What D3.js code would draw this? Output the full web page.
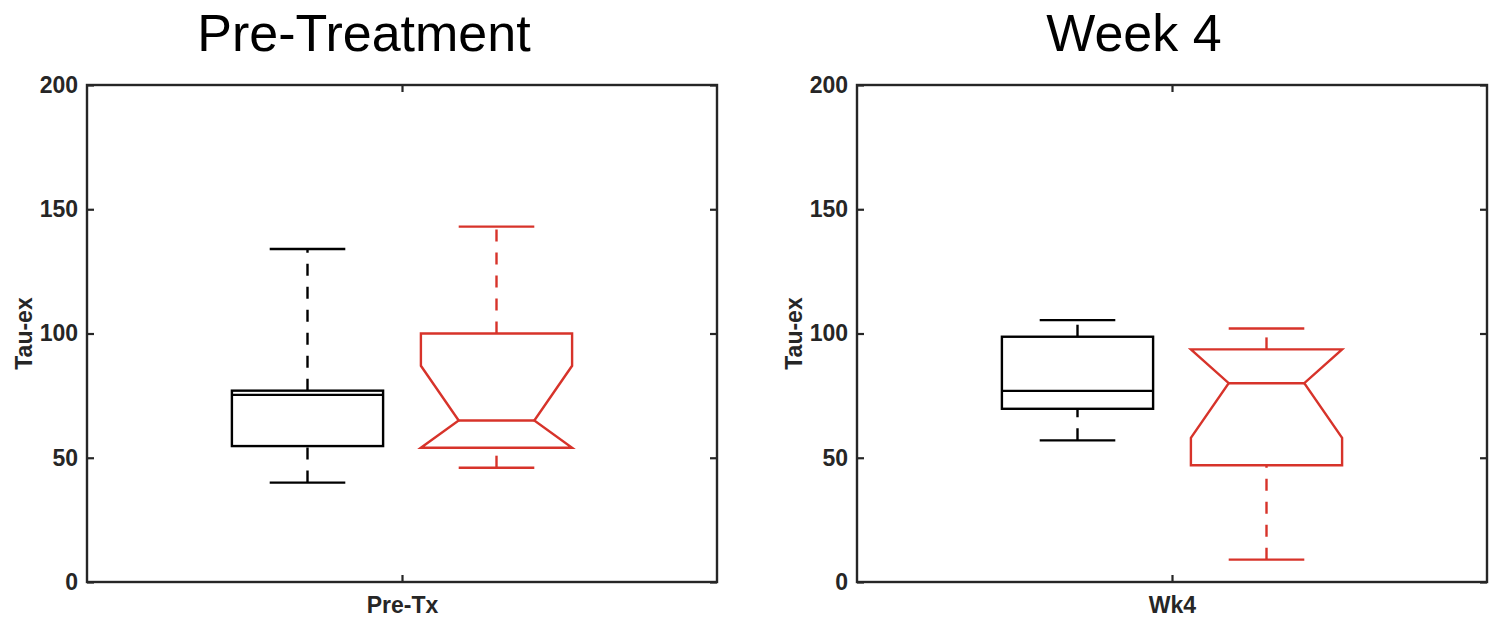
<!DOCTYPE html>
<html>
<head>
<meta charset="utf-8">
<script src="https://cdn.jsdelivr.net/npm/d3@7"></script>
<style>
  html, body { margin: 0; padding: 0; background: #ffffff; }
  svg { display: block; }
  text { font-family: "Liberation Sans", Arial, Helvetica, sans-serif; }
</style>
</head>
<body>
<svg id="chart" width="1506" height="632"></svg>
<script>
// ---- data ----
const panelTitles = ["Pre-Treatment", "Week 4"];
const groupLabels = ["Pre-Tx", "Wk4"];
const yTicks = [0, 50, 100, 150, 200];
const yLabel = "Tau-ex";

// black (first) box in each panel
const blackLow    = [40, 57];
const blackQ1     = [54.7, 69.7];
const blackMedian = [75.3, 76.9];
const blackQ3     = [77, 98.7];
const blackHigh   = [134, 105.4];

// red (second, notched) box in each panel
const redLow     = [46, 9];
const redQ1      = [54, 47];
const redMedian  = [65, 80];
const redQ3      = [100, 93.6];
const redHigh    = [143, 102];
const redNotchLo = [54, 58];
const redNotchHi = [87, 93.6];

// ---- layout ----
const svg = d3.select("#chart");
const panels = [
  { left: 87, right: 717 },
  { left: 857, right: 1487 }
];
const plotTop = 85, plotBottom = 582;
const axisColor = "#262626";
const redColor = "#d7332a";
const boxPos = [0.85, 1.15];
const boxHalf = 0.12;

panels.forEach((p, i) => {
  const x = d3.scaleLinear().domain([0.5, 1.5]).range([p.left, p.right]);
  const y = d3.scaleLinear().domain([0, 200]).range([plotBottom, plotTop]);
  const g = svg.append("g");

  // title
  g.append("text")
    .attr("x", (p.left + p.right) / 2 - 38)
    .attr("y", 51)
    .attr("text-anchor", "middle")
    .style("font-size", "52px")
    .style("fill", "#000")
    .text(panelTitles[i]);

  // plot background
  g.append("rect")
    .attr("x", p.left).attr("y", plotTop)
    .attr("width", p.right - p.left).attr("height", plotBottom - plotTop)
    .attr("fill", "#ffffff");

  // left axis
  const yAxisL = d3.axisLeft(y).tickValues(yTicks).tickSize(-7).tickPadding(9).tickFormat(d3.format("d"));
  const gyl = g.append("g").attr("transform", `translate(${p.left},0)`).call(yAxisL);
  gyl.select(".domain").remove();
  gyl.selectAll(".tick line").attr("stroke", axisColor).attr("stroke-width", 2.2);
  gyl.selectAll(".tick text")
    .style("font-size", "23px").style("font-weight", "bold").style("fill", "#262626");

  // right axis (ticks only)
  const yAxisR = d3.axisRight(y).tickValues(yTicks).tickSize(-7).tickFormat("");
  const gyr = g.append("g").attr("transform", `translate(${p.right},0)`).call(yAxisR);
  gyr.select(".domain").remove();
  gyr.selectAll(".tick line").attr("stroke", axisColor).attr("stroke-width", 2.2);

  // bottom axis
  const xAxisB = d3.axisBottom(x).tickValues([1]).tickSize(-7).tickPadding(15).tickFormat(() => groupLabels[i]);
  const gxb = g.append("g").attr("transform", `translate(0,${plotBottom})`).call(xAxisB);
  gxb.select(".domain").remove();
  gxb.selectAll(".tick line").attr("stroke", axisColor).attr("stroke-width", 2.2);
  gxb.selectAll(".tick text")
    .style("font-size", "23px").style("font-weight", "bold").style("fill", "#262626");

  // top axis ticks
  const xAxisT = d3.axisTop(x).tickValues([1]).tickSize(-7).tickFormat("");
  const gxt = g.append("g").attr("transform", `translate(0,${plotTop})`).call(xAxisT);
  gxt.select(".domain").remove();
  gxt.selectAll(".tick line").attr("stroke", axisColor).attr("stroke-width", 2.2);

  // frame
  g.append("rect")
    .attr("x", p.left).attr("y", plotTop)
    .attr("width", p.right - p.left).attr("height", plotBottom - plotTop)
    .attr("fill", "none").attr("stroke", axisColor).attr("stroke-width", 2.4);

  // y label
  g.append("text")
    .attr("transform", `translate(${p.left - 55},${(plotTop + plotBottom) / 2}) rotate(-90)`)
    .attr("text-anchor", "middle")
    .style("font-size", "23px").style("font-weight", "bold").style("fill", "#262626")
    .text(yLabel);

  // boxes
  const boxes = [
    { pos: boxPos[0], low: blackLow[i], q1: blackQ1[i], med: blackMedian[i], q3: blackQ3[i], high: blackHigh[i], notch: false, color: "#000000" },
    { pos: boxPos[1], low: redLow[i], q1: redQ1[i], med: redMedian[i], q3: redQ3[i], high: redHigh[i], notch: true, nlo: redNotchLo[i], nhi: redNotchHi[i], color: redColor }
  ];

  boxes.forEach(b => {
    const xl = x(b.pos - boxHalf), xr = x(b.pos + boxHalf), xc = x(b.pos);
    const w = xr - xl;
    const bg = g.append("g").attr("fill", "none").attr("stroke", b.color).attr("stroke-width", 2.4);

    // whiskers (drawn from lower value upward), dashed
    bg.append("line").attr("x1", xc).attr("x2", xc).attr("y1", y(b.low)).attr("y2", y(b.q1))
      .attr("stroke-dasharray", "12 11");
    bg.append("line").attr("x1", xc).attr("x2", xc).attr("y1", y(b.q3)).attr("y2", y(b.high))
      .attr("stroke-dasharray", "12 11");

    // caps
    [b.low, b.high].forEach(v => {
      bg.append("line").attr("x1", xc - w / 4).attr("x2", xc + w / 4)
        .attr("y1", y(v)).attr("y2", y(v));
    });

    if (b.notch) {
      const pts = [
        [xl, y(b.q1)], [xl, y(b.nlo)], [xl + w / 4, y(b.med)], [xl, y(b.nhi)], [xl, y(b.q3)],
        [xr, y(b.q3)], [xr, y(b.nhi)], [xr - w / 4, y(b.med)], [xr, y(b.nlo)], [xr, y(b.q1)]
      ];
      bg.append("path").attr("d", d3.line()(pts) + "Z").attr("stroke-linejoin", "miter");
      bg.append("line").attr("x1", xl + w / 4).attr("x2", xr - w / 4)
        .attr("y1", y(b.med)).attr("y2", y(b.med));
    } else {
      bg.append("rect").attr("x", xl).attr("y", y(b.q3))
        .attr("width", w).attr("height", y(b.q1) - y(b.q3));
      bg.append("line").attr("x1", xl).attr("x2", xr)
        .attr("y1", y(b.med)).attr("y2", y(b.med));
    }
  });
});
</script>
</body>
</html>
